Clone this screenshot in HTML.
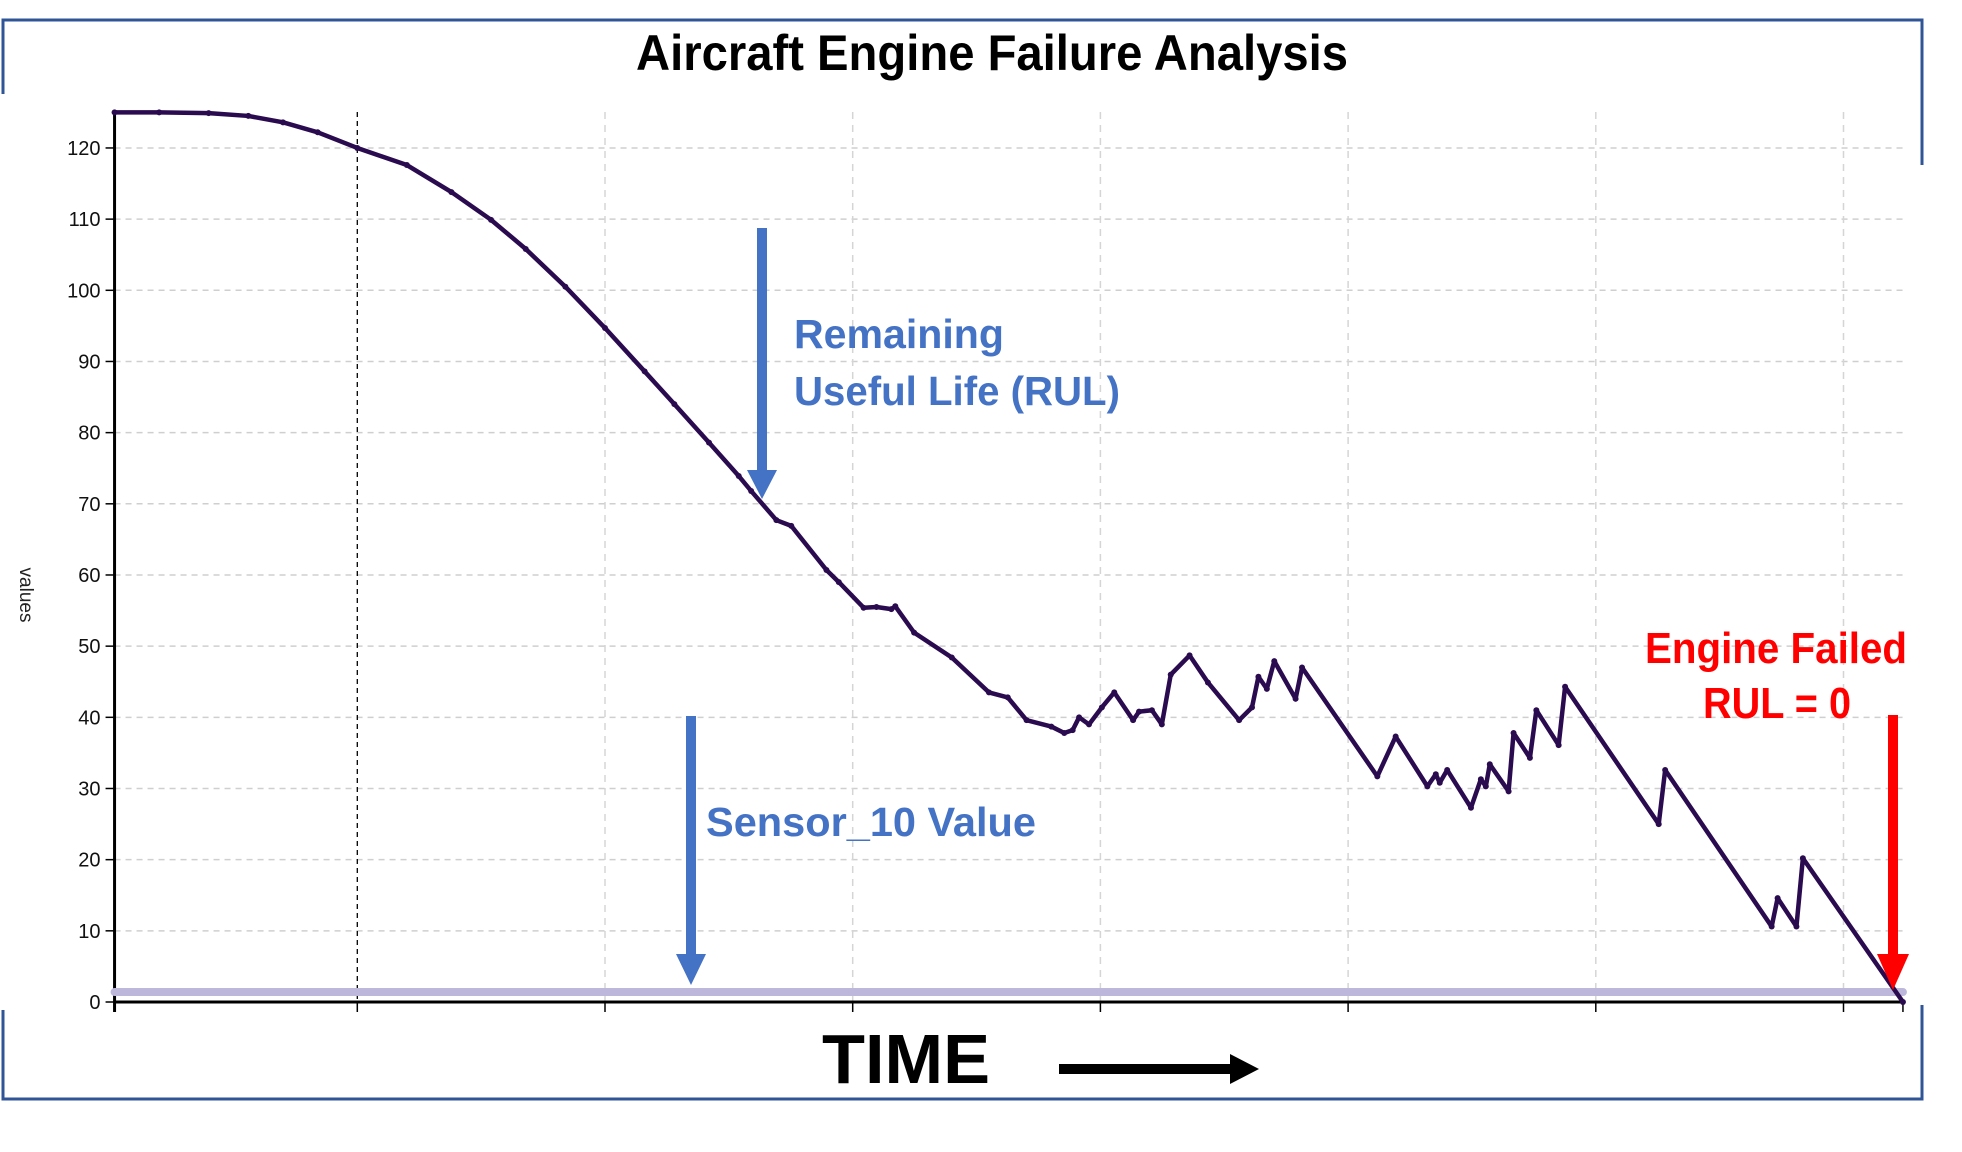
<!DOCTYPE html>
<html><head><meta charset="utf-8"><style>
html,body{margin:0;padding:0;background:#fff;}
svg{display:block;font-family:"Liberation Sans",sans-serif;}
</style></head><body>
<svg id="chart" width="1962" height="1152" viewBox="0 0 1962 1152">
<rect x="0" y="0" width="1962" height="1152" fill="#fff"/>
<rect x="3" y="20" width="1919" height="1079" fill="none" stroke="#2f5597" stroke-width="3"/>
<rect x="0" y="94" width="6" height="916" fill="#fff"/>
<rect x="1918" y="165" width="8" height="840" fill="#fff"/>
<text x="992" y="70" text-anchor="middle" font-size="50" font-weight="bold" textLength="712" lengthAdjust="spacingAndGlyphs" fill="#000">Aircraft Engine Failure Analysis</text>
<g id="grid"></g>
<g id="axes"></g>
<g id="series"></g>
<text transform="translate(20,595) rotate(90)" text-anchor="middle" font-size="19" fill="#222">values</text>
<g>
<rect x="757" y="228" width="10" height="245" fill="#4472c4"/>
<polygon points="747,470 777,470 762,499" fill="#4472c4"/>
<text x="794" y="348" font-size="41" font-weight="bold" fill="#4472c4" textLength="210" lengthAdjust="spacingAndGlyphs">Remaining</text>
<text x="794" y="405" font-size="41" font-weight="bold" fill="#4472c4" textLength="326" lengthAdjust="spacingAndGlyphs">Useful Life (RUL)</text>
</g>
<g>
<rect x="686" y="716" width="10" height="240" fill="#4472c4"/>
<polygon points="676,954 706,954 691,985" fill="#4472c4"/>
<text x="706" y="836" font-size="41" font-weight="bold" fill="#4472c4" textLength="330" lengthAdjust="spacingAndGlyphs">Sensor_10 Value</text>
</g>
<g>
<text x="1907" y="663" text-anchor="end" font-size="44" font-weight="bold" fill="#ff0000" textLength="262" lengthAdjust="spacingAndGlyphs">Engine Failed</text>
<text x="1851" y="718" text-anchor="end" font-size="44" font-weight="bold" fill="#ff0000" textLength="148" lengthAdjust="spacingAndGlyphs">RUL = 0</text>
<rect x="1888" y="715" width="10" height="240" fill="#ff0000"/>
<polygon points="1877,954 1909,954 1893,990" fill="#ff0000"/>
</g>
<text x="822" y="1083" font-size="70" font-weight="bold" fill="#000" textLength="168" lengthAdjust="spacingAndGlyphs">TIME</text>
<g>
<rect x="1059" y="1064" width="174" height="10" fill="#000"/>
<polygon points="1230,1054 1259,1069 1230,1084" fill="#000"/>
</g>
</svg>
<script>
const rulTimes = [1,10,20,28,35,42,50,60,69,77,84,92,100,108,114,121,127,129.5,134.6,137.6,144.7,147.2,152.2,154.8,157.8,158.6,162.4,170,177.5,181.3,185.1,190.1,192.7,194.4,195.7,197.7,200.3,202.8,206.6,207.8,210.4,212.4,214.2,218,221.7,228,230.6,231.9,233.6,235.1,239.4,240.7,255.9,259.6,266,267.7,268.5,270,274.8,276.8,277.8,278.6,282.4,283.4,286.7,288,292.5,293.8,312.7,314,335.5,336.7,340.5,341.8,362];
const rulValues = [125,125,124.9,124.5,123.6,122.2,120,117.6,113.8,109.9,105.8,100.5,94.7,88.6,84.0,78.6,73.9,71.8,67.7,66.9,60.7,59,55.4,55.5,55.2,55.6,51.9,48.4,43.5,42.8,39.6,38.7,37.8,38.2,40,39,41.4,43.5,39.6,40.8,41,39,46,48.7,44.9,39.6,41.4,45.7,44,47.9,42.6,47,31.7,37.3,30.3,32,30.8,32.6,27.3,31.3,30.3,33.4,29.6,37.8,34.3,41,36.1,44.3,25,32.6,10.6,14.6,10.6,20.2,0];
const sensorTimes = [1,362];
const sensorValues = [1.4,1.4];
const yTicks = [0,10,20,30,40,50,60,70,80,90,100,110,120];
const xTicks = [50,100,150,200,250,300,350];

const NS = 'http://www.w3.org/2000/svg';
const xS = t => 109.6 + t * 4.954;
const yS = v => 1002 - v * 7.117;
function mk(tag, attrs, parent) {
  const el = document.createElementNS(NS, tag);
  for (const k in attrs) el.setAttribute(k, attrs[k]);
  parent.appendChild(el);
  return el;
}
const grid = document.getElementById('grid');
const axes = document.getElementById('axes');
const series = document.getElementById('series');
const X0 = xS(1), X1 = xS(362);

yTicks.forEach(v => {
  if (v > 0) {
    const g = mk('line', {x1: X0, x2: X1, y1: yS(v), y2: yS(v), stroke: '#cfcfcf', 'stroke-width': 1.5, 'stroke-dasharray': '6,5'}, grid);
    
    
  }
  const tk = mk('line', {x1: X0 - 9, x2: X0, y1: yS(v), y2: yS(v), stroke: '#000', 'stroke-width': 1.5}, axes);
  
  
  const lb = mk('text', {x: X0 - 14, y: yS(v) + 7, 'text-anchor': 'end', 'font-size': 20, fill: '#111'}, axes);
  lb.textContent = v;
  
  
});
xTicks.forEach((t, i) => {
  const first = i === 0;
  const g = mk('line', {x1: xS(t), x2: xS(t), y1: 112, y2: 1002, stroke: first ? '#000' : '#d5d5d5', 'stroke-width': first ? 1.3 : 1.5, 'stroke-dasharray': first ? '5,4' : '7,6'}, grid);
  
  
  const tk = mk('line', {x1: xS(t), x2: xS(t), y1: 1002, y2: 1012, stroke: '#000', 'stroke-width': 1.5}, axes);
  
  
});
const endTick = mk('line', {x1: X1, x2: X1, y1: 1002, y2: 1012, stroke: '#000', 'stroke-width': 1.5}, axes);


const yAxis = mk('line', {x1: X0, x2: X0, y1: 110, y2: 1012, stroke: '#000', 'stroke-width': 3}, axes);


const xAxis = mk('line', {x1: X0, x2: X1, y1: 1002, y2: 1002, stroke: '#000', 'stroke-width': 3}, axes);



const sp = sensorTimes.map((t, i) => xS(t) + ',' + yS(sensorValues[i])).join(' ');
const sLine = mk('polyline', {points: sp, fill: 'none', stroke: '#bdb7dc', 'stroke-width': 8, 'stroke-linecap': 'round'}, series);



const rp = rulTimes.map((t, i) => xS(t) + ',' + yS(rulValues[i])).join(' ');
const rLine = mk('polyline', {points: rp, fill: 'none', stroke: '#2b0b4f', 'stroke-width': 4.5, 'stroke-linejoin': 'round', 'stroke-linecap': 'round'}, series);


rulTimes.forEach((t, i) => {
  const c = mk('circle', {cx: xS(t), cy: yS(rulValues[i]), r: 3, fill: '#2b0b4f'}, series);
  
  
});
</script>
</body></html>
